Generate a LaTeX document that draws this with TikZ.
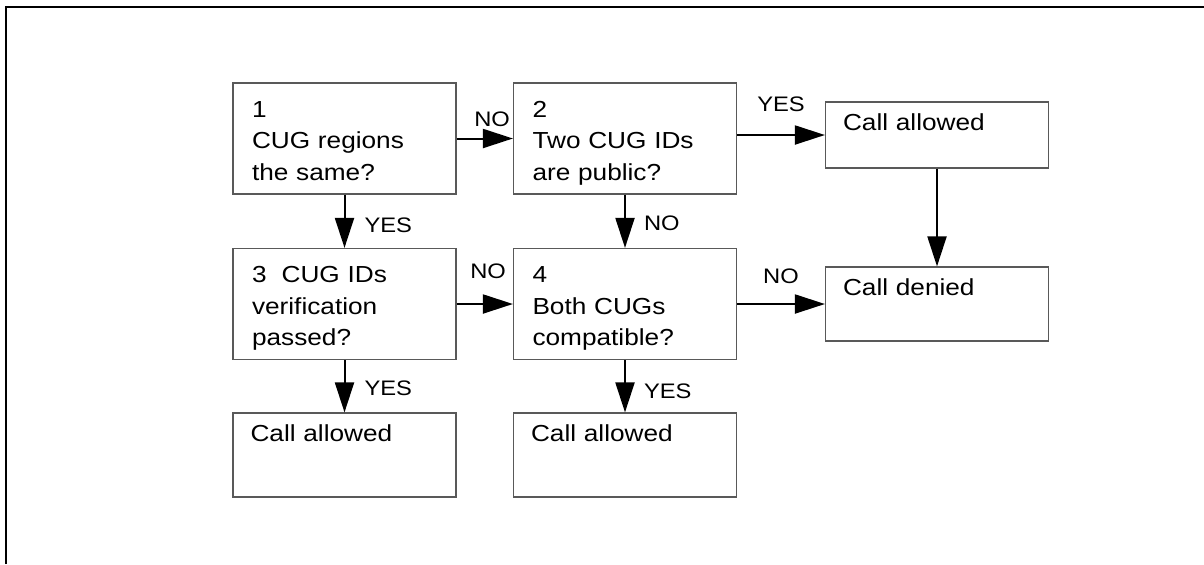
\documentclass[tikz,border=0pt]{standalone}
\usepackage{fontspec}
\setmainfont{Liberation Sans}[FakeStretch=1.13]
\usetikzlibrary{arrows.meta}
\begin{document}
\begin{tikzpicture}[x=0.5pt,y=-0.5pt]
            \tikzstyle{decision box}=[draw=black!65,line width=0.6pt,text width=92.5pt,align=left,inner xsep=9.5pt,inner ysep=0pt,text height=17pt,text depth=38.5pt,font={\fontsize{11.6}{15.75}\selectfont}]
            \tikzstyle{result box}=[draw=black!65,line width=0.6pt,text width=94pt,align=left,inner xsep=8.75pt,inner ysep=0pt,text height=14.25pt,font={\fontsize{11.6}{15.75}\selectfont}]
            \tikzstyle{flow line}=[line width=1pt,-{Triangle[length=15pt,width=9.5pt]}]
            \tikzstyle{flow label}=[inner sep=0pt,font={\fontsize{10.5}{12}\selectfont}]

            \useasboundingbox (0,0) rectangle (1204,564);
            \draw[line width=0.8pt] (6,564) -- (6,7) -- (1204,7);

            \node(1)[decision box] at (344.5,138.5) {1\\CUG regions\\the same?};
            \node(2)[decision box] at (625,138.5) {2\\Two CUG IDs\\are public?};
            \node(3)[decision box] at (344.5,304) {3\hspace{7.5pt}CUG IDs\\verification\\passed?};
            \node(4)[decision box] at (625,304) {4\\Both CUGs\\compatible?};
            \node(a2)[result box,text depth=18.75pt] at (937,135) {Call allowed};
            \node(d4)[result box,text depth=22.75pt] at (937,304) {Call denied};
            \node(a3)[result box,text depth=27.75pt] at (344.5,455) {Call allowed};
            \node(a4)[result box,text depth=27.75pt] at (625,455) {Call allowed};

            \draw[flow line] (1.east) -- (2.west)
            node[flow label,pos=1,anchor=south east,xshift=-1pt,yshift=5.5pt]{NO};
            \draw[flow line] (2.east |- a2.west) -- (a2.west)
            node[flow label,midway,anchor=south,yshift=11pt]{YES};
            \draw[flow line] (3.east) -- (4.west)
            node[flow label,pos=1,anchor=south east,xshift=-3pt,yshift=12pt]{NO};
            \draw[flow line] (4.east) -- (d4.west)
            node[flow label,midway,anchor=south,yshift=9.5pt]{NO};
            \draw[flow line] (1.south) -- (3.north)
            node[flow label,midway,anchor=west,xshift=9.5pt,yshift=-2pt]{YES};
            \draw[flow line] (2.south) -- (4.north)
            node[flow label,midway,anchor=west,xshift=9pt,yshift=-1pt]{NO};
            \draw[flow line] (3.south) -- (a3.north)
            node[flow label,midway,anchor=west,xshift=9.5pt,yshift=-1pt]{YES};
            \draw[flow line] (4.south) -- (a4.north)
            node[flow label,midway,anchor=west,xshift=9pt,yshift=-2.5pt]{YES};
            \draw[flow line] (a2.south) -- (d4.north);
\end{tikzpicture}
\end{document}
